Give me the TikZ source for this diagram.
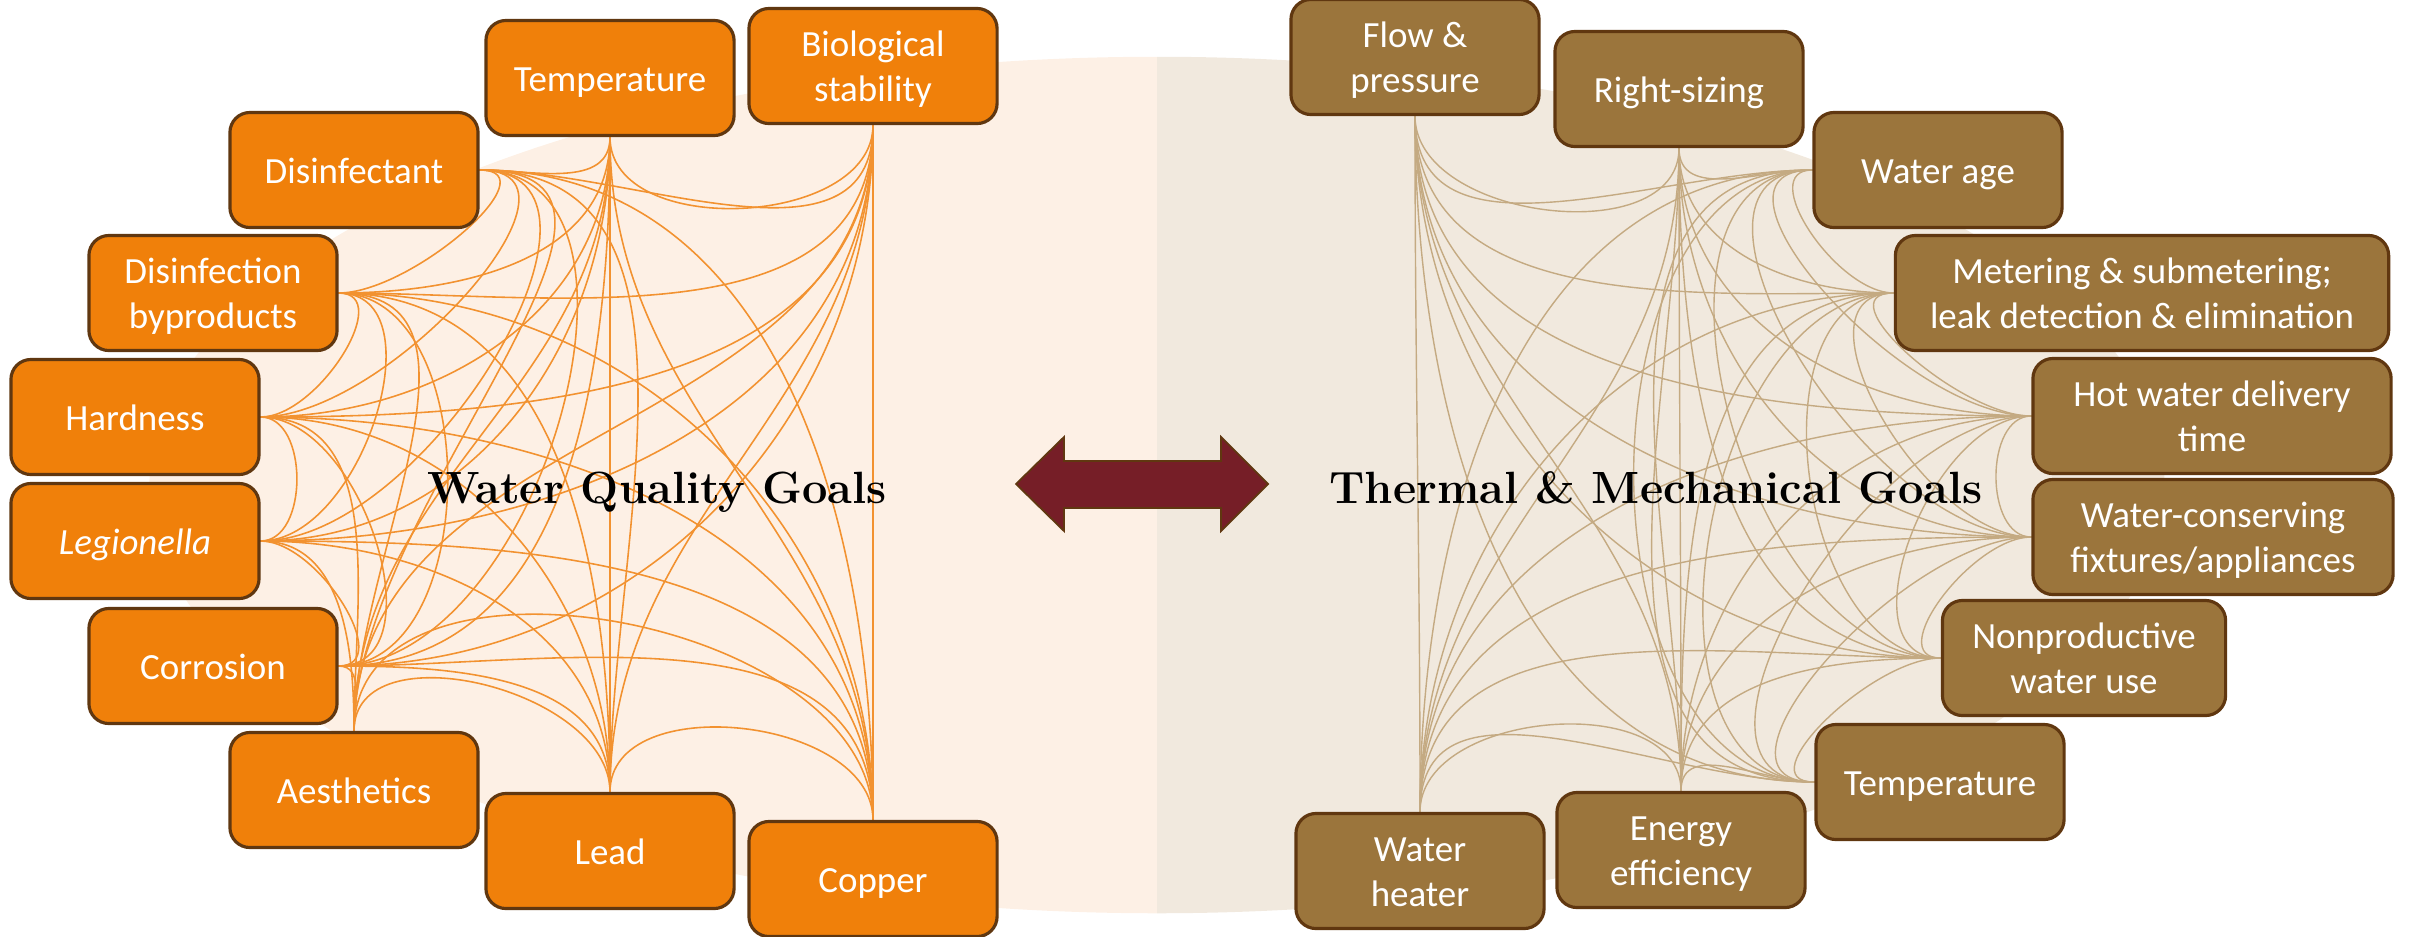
\documentclass[tikz,border=0pt]{standalone}
\usepackage{fontspec}
\newfontfamily\boxfont{Carlito}
\definecolor{bgL}{RGB}{253,240,229}
\definecolor{bgR}{RGB}{241,233,222}
\definecolor{wqfill}{RGB}{240,128,10}
\definecolor{tmfill}{RGB}{155,117,60}
\definecolor{boxline}{RGB}{96,55,16}
\definecolor{wqline}{RGB}{242,146,48}
\definecolor{tmline}{RGB}{196,170,130}
\definecolor{arrowfill}{RGB}{118,30,39}
% box caption: lines centred, set a little low in the box
\newcommand\goalcell[1]{\raisebox{-1.2pt}[\height][\depth]{%
  \begin{tabular}{@{}c@{}}#1\end{tabular}}}
\pgfdeclarelayer{backdrop}
\pgfdeclarelayer{links}
\pgfsetlayers{backdrop,links,main}
\begin{document}
\begin{tikzpicture}[x=0.01cm,y=-0.01cm,
  goal/.style={draw=boxline, line width=0.9pt, rounded corners=0.2cm,
    minimum width=2.48cm, minimum height=1.15cm, inner sep=0pt,
    text=white, font=\boxfont\fontsize{10.5}{12.6}\selectfont},
  wq/.style={goal, fill=wqfill},
  tm/.style={goal, fill=tmfill},
  wqedge/.style={draw=wqline, line width=0.45pt},
  tmedge/.style={draw=tmline, line width=0.4pt},
  heading/.style={font=\bfseries\fontsize{12.85}{15}\selectfont, anchor=base}
]
\useasboundingbox (0,0) rectangle (2410,936);

% backdrop: one ellipse, two tints
\begin{pgfonlayer}{backdrop}
\begin{scope}
  \clip (0,0) rectangle (1157,936);
  \fill[bgL] (1157,485) ellipse [x radius=10.07cm, y radius=4.28cm];
\end{scope}
\begin{scope}
  \clip (1157,0) rectangle (2410,936);
  \fill[bgR] (1157,485) ellipse [x radius=10.07cm, y radius=4.28cm];
\end{scope}
\end{pgfonlayer}

% water quality goals
\node[wq] (LT)   at (610,78)  {\goalcell{Temperature}};
\node[wq] (Bio)  at (873,66)  {\goalcell{Biological\\stability}};
\node[wq] (Dis)  at (354,170) {\goalcell{Disinfectant}};
\node[wq] (DBP)  at (213,293) {\goalcell{Disinfection\\byproducts}};
\node[wq] (Hard) at (135,417) {\goalcell{Hardness}};
\node[wq] (Leg)  at (135,541) {\goalcell{\itshape Legionella}};
\node[wq] (Cor)  at (213,666) {\goalcell{Corrosion}};
\node[wq] (Aes)  at (354,790) {\goalcell{Aesthetics}};
\node[wq] (Lead) at (610,851) {\goalcell{Lead}};
\node[wq] (Cu)   at (873,879) {\goalcell{Copper}};

% thermal & mechanical goals
\node[tm] (Flow)   at (1415,57)  {\goalcell{Flow \&\\pressure}};
\node[tm] (RS)     at (1679,89)  {\goalcell{Right-sizing}};
\node[tm] (Age)    at (1938,170) {\goalcell{Water age}};
\node[tm, minimum width=4.93cm] (Meter) at (2142,293) {\goalcell{Metering \& submetering;\\leak detection \& elimination}};
\node[tm, minimum width=3.58cm] (Hot)   at (2212,416) {\goalcell{Hot water delivery\\time}};
\node[tm, minimum width=3.60cm] (Cons)  at (2213,537) {\goalcell{Water-conserving\\fixtures/appliances}};
\node[tm, minimum width=2.83cm] (Nonp)  at (2084,658) {\goalcell{Nonproductive\\water use}};
\node[tm] (RTemp)  at (1940,782) {\goalcell{Temperature}};
\node[tm] (Energy) at (1681,850) {\goalcell{Energy\\efficiency}};
\node[tm] (Heater) at (1420,871) {\goalcell{Water\\heater}};

% every pair of goals on each side is linked
\def\wqlist{LT/south/-90, Bio/south/-90, Dis/east/0, DBP/east/0, Hard/east/0,
  Leg/east/0, Cor/east/0, Aes/north/90, Lead/north/90, Cu/north/90}
\def\tmlist{Flow/south/-90, RS/south/-90, Age/west/180, Meter/west/180,
  Hot/west/180, Cons/west/180, Nonp/west/180, RTemp/west/180,
  Energy/north/90, Heater/north/90}
\begin{pgfonlayer}{links}
\foreach \a/\pa/\oa [count=\i] in \wqlist {
  \foreach \b/\pb/\ob [count=\j] in \wqlist {
    \ifnum\j>\i
      \draw[wqedge] (\a.\pa) to[out=\oa, in=\ob] (\b.\pb);
    \fi
  }
}
\foreach \a/\pa/\oa [count=\i] in \tmlist {
  \foreach \b/\pb/\ob [count=\j] in \tmlist {
    \ifnum\j>\i
      \draw[tmedge] (\a.\pa) to[out=\oa, in=\ob] (\b.\pb);
    \fi
  }
}
\end{pgfonlayer}

% headings
\node[heading] (wqtitle) at (657,503)  {Water Quality Goals};
\node[heading] (tmtitle) at (1656,503) {Thermal \& Mechanical Goals};

% two-way arrow between the groups
\filldraw[fill=arrowfill, draw=boxline, line width=0.5pt]
  (1016,484) -- (1064,437) -- (1064,461) -- (1221,461) -- (1221,437)
  -- (1268,484) -- (1221,531) -- (1221,508) -- (1064,508) -- (1064,531) -- cycle;
\end{tikzpicture}
\end{document}
